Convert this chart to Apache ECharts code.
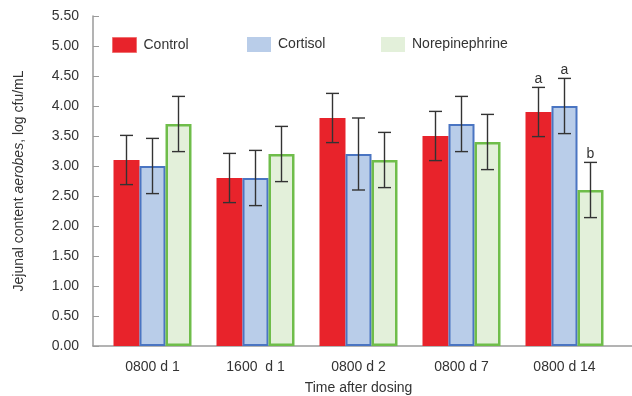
<!DOCTYPE html>
<html>
<head>
<meta charset="utf-8">
<script src="https://cdn.jsdelivr.net/npm/echarts@6/dist/echarts.min.js"></script>
<style>html,body{margin:0;padding:0;background:#fff}#c{width:632px;height:396px}</style>
</head>
<body>
<div id="c"></div>
<script>
const categories = ['0800 d 1', '1600  d 1', '0800 d 2', '0800 d 7', '0800 d 14'];
const seriesNames = ['Control', 'Cortisol', 'Norepinephrine'];
const control = [3.1, 2.8, 3.8, 3.5, 3.9];
const cortisol = [3.0, 2.8, 3.2, 3.7, 4.0];
const norepinephrine = [3.7, 3.2, 3.1, 3.4, 2.6];
const controlErr = [0.41, 0.41, 0.41, 0.41, 0.41];
const cortisolErr = [0.46, 0.46, 0.60, 0.46, 0.46];
const norepinephrineErr = [0.46, 0.46, 0.46, 0.46, 0.46];
const controlSig = ['', '', '', '', 'a'];
const cortisolSig = ['', '', '', '', 'a'];
const norepinephrineSig = ['', '', '', '', 'b'];
const yMin = 0, yMax = 5.5, yStep = 0.5;

const font = 'Liberation Sans, Arial, sans-serif';
const textColor = '#333';
const axisColor = '#9a9a9a';
const barW = 26;

const styles = [
  { fill: '#e8232b', border: '#ee5a5f', bw: 0 },
  { fill: '#b9cde9', border: '#4a75c2', bw: 2 },
  { fill: '#e3f0da', border: '#6fbd4a', bw: 2.5 }
];
const values = [control, cortisol, norepinephrine];
const errs = [controlErr, cortisolErr, norepinephrineErr];
const sigs = [controlSig, cortisolSig, norepinephrineSig];

const chart = echarts.init(document.getElementById('c'), null, { renderer: 'canvas' });

const series = [];
values.forEach((vals, i) => {
  series.push({
    name: seriesNames[i],
    type: 'bar',
    xAxisIndex: 0, yAxisIndex: 0,
    data: vals,
    barWidth: barW,
    barGap: '0%',
    itemStyle: { color: styles[i].fill, borderColor: styles[i].border, borderWidth: styles[i].bw },
    emphasis: { disabled: true },
    z: 2
  });
});
values.forEach((vals, i) => {
  const off = (i - 1) * barW;
  series.push({
    type: 'custom',
    xAxisIndex: 0, yAxisIndex: 0,
    data: vals.map((v, k) => [k, v, errs[i][k]]),
    z: 5,
    silent: true,
    renderItem: function (params, api) {
      const k = api.value(0), v = api.value(1), e = api.value(2);
      const hi = api.coord([k, v + e]);
      const lo = api.coord([k, v - e]);
      const cx = hi[0] + off;
      const cap = 6.5;
      const st = { stroke: '#333', lineWidth: 1.4 };
      const children = [
        { type: 'line', shape: { x1: cx, y1: hi[1], x2: cx, y2: lo[1] }, style: st },
        { type: 'line', shape: { x1: cx - cap, y1: hi[1], x2: cx + cap, y2: hi[1] }, style: st },
        { type: 'line', shape: { x1: cx - cap, y1: lo[1], x2: cx + cap, y2: lo[1] }, style: st }
      ];
      const letter = sigs[i][params.dataIndex];
      if (letter) {
        children.push({
          type: 'text',
          style: { text: letter, x: cx, y: hi[1] - 1, align: 'center', verticalAlign: 'bottom',
                   font: '14px ' + font, fill: '#333' }
        });
      }
      return { type: 'group', children: children };
    }
  });
});

function legendAt(i, left) {
  return {
    left: left, top: 32,
    itemWidth: 24, itemHeight: 15, itemGap: 8,
    icon: 'rect',
    data: [{ name: seriesNames[i], itemStyle: { color: styles[i].fill, borderColor: i === 0 ? '#f07070' : styles[i].fill, borderWidth: i === 0 ? 1 : 0 } }],
    textStyle: { fontFamily: font, fontSize: 14, color: textColor, padding: [0, 0, 0, 2] },
    selectedMode: false
  };
}

chart.setOption({
  animation: false,
  backgroundColor: '#fff',
  legend: [legendAt(0, 107), legendAt(1, 242), legendAt(2, 376)],
  grid: [
    { left: 101, right: 16, top: 16, bottom: 50, containLabel: false, outerBoundsMode: 'none' },
    { left: 93, right: 0, top: 16, bottom: 50, containLabel: false, outerBoundsMode: 'none' }
  ],
  xAxis: [
    {
      type: 'category', gridIndex: 0, data: categories,
      boundaryGap: true,
      axisLine: { show: false },
      axisTick: { show: false },
      axisLabel: { fontFamily: font, fontSize: 14, color: textColor, margin: 14 },
      name: 'Time after dosing', nameLocation: 'middle', nameGap: 35,
      nameTextStyle: { fontFamily: font, fontSize: 14, color: textColor }
    },
    {
      type: 'value', gridIndex: 1, min: 0, max: 1,
      axisLine: { show: true, lineStyle: { color: axisColor, width: 1.5 } },
      axisTick: { show: false }, axisLabel: { show: false }, splitLine: { show: false }
    }
  ],
  yAxis: [
    {
      type: 'value', gridIndex: 0, min: yMin, max: yMax, interval: yStep,
      offset: 8,
      axisLine: { show: true, lineStyle: { color: axisColor, width: 1.5 } },
      axisTick: { show: true, inside: true, length: 6, lineStyle: { color: axisColor } },
      splitLine: { show: false },
      axisLabel: { fontFamily: font, fontSize: 14, color: textColor, margin: 14,
                   formatter: v => v.toFixed(2) },
      name: '{a|Jejunal content }{i|aerobes}{a|, log cfu/mL}',
      nameLocation: 'middle', nameGap: 67, nameRotate: 90,
      nameTextStyle: {
        rich: {
          a: { fontFamily: font, fontSize: 14, color: textColor },
          i: { fontFamily: font, fontSize: 14, color: textColor, fontStyle: 'italic' }
        }
      }
    },
    { type: 'value', gridIndex: 1, show: false, min: 0, max: 1 }
  ],
  series: series
});
</script>
</body>
</html>
